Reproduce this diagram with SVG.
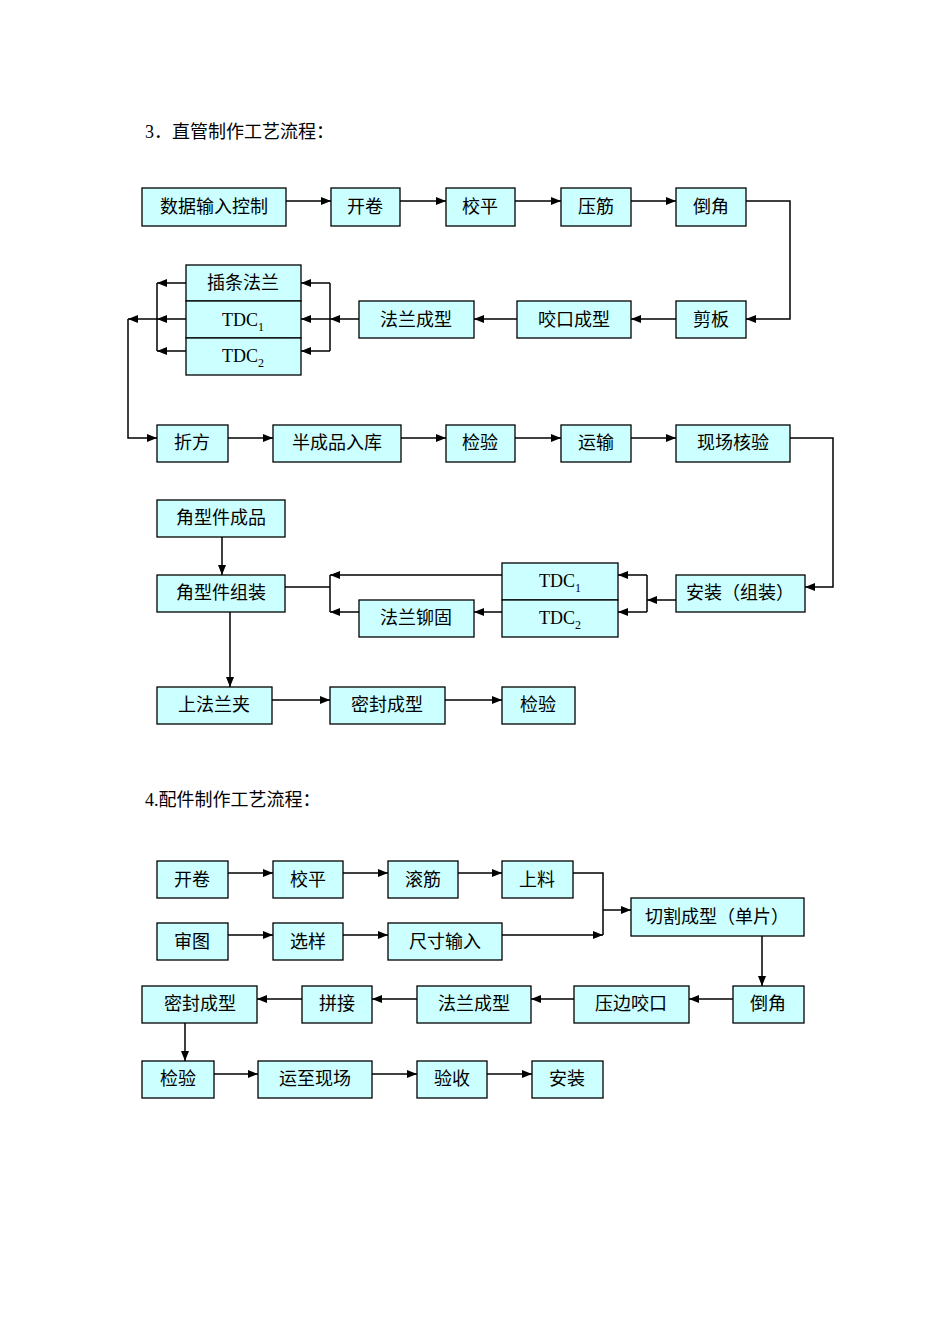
<svg xmlns="http://www.w3.org/2000/svg" width="950" height="1344" viewBox="0 0 950 1344">
<defs>
<marker id="a" markerWidth="10" markerHeight="8" refX="10" refY="4" orient="auto" markerUnits="userSpaceOnUse"><path d="M0,0 L10,4 L0,8 z" fill="#000"/></marker>
<style>
.b{fill:#ccffff;stroke:#000;stroke-width:1.3}
text{font-family:"Liberation Serif","Noto Sans CJK SC",serif;font-size:18px;text-anchor:middle;fill:#000}
.t{text-anchor:start}
.c line,.c polyline{stroke:#000;stroke-width:1.5;fill:none}
.m{marker-end:url(#a)}
</style>
</defs>
<rect width="950" height="1344" fill="#fff"/>
<text class="t" x="145" y="138">3．直管制作工艺流程：</text>
<text class="t" x="145" y="806">4.配件制作工艺流程：</text>
<g id="n1"><rect class="b" x="142" y="188" width="144" height="38"/><text x="214" y="213">数据输入控制</text></g>
<g id="n2"><rect class="b" x="331" y="188" width="69" height="38"/><text x="365" y="213">开卷</text></g>
<g id="n3"><rect class="b" x="446" y="188" width="69" height="38"/><text x="480" y="213">校平</text></g>
<g id="n4"><rect class="b" x="561" y="188" width="70" height="38"/><text x="596" y="213">压筋</text></g>
<g id="n5"><rect class="b" x="676" y="188" width="70" height="38"/><text x="711" y="213">倒角</text></g>
<g id="n6"><rect class="b" x="676" y="301" width="70" height="37"/><text x="711" y="326">剪板</text></g>
<g id="n7"><rect class="b" x="517" y="301" width="114" height="37"/><text x="574" y="326">咬口成型</text></g>
<g id="n8"><rect class="b" x="359" y="301" width="115" height="37"/><text x="416" y="326">法兰成型</text></g>
<g id="n9"><rect class="b" x="186" y="265" width="115" height="36"/><text x="243" y="289">插条法兰</text></g>
<g id="n10"><rect class="b" x="186" y="301" width="115" height="37"/><text x="243" y="326">TDC<tspan font-size="12" dy="5">1</tspan></text></g>
<g id="n11"><rect class="b" x="186" y="338" width="115" height="37"/><text x="243" y="362">TDC<tspan font-size="12" dy="5">2</tspan></text></g>
<g id="n12"><rect class="b" x="157" y="425" width="71" height="37"/><text x="192" y="449">折方</text></g>
<g id="n13"><rect class="b" x="273" y="425" width="128" height="37"/><text x="337" y="449">半成品入库</text></g>
<g id="n14"><rect class="b" x="446" y="425" width="69" height="37"/><text x="480" y="449">检验</text></g>
<g id="n15"><rect class="b" x="561" y="425" width="70" height="37"/><text x="596" y="449">运输</text></g>
<g id="n16"><rect class="b" x="676" y="425" width="114" height="37"/><text x="733" y="449">现场核验</text></g>
<g id="n17"><rect class="b" x="157" y="500" width="128" height="37"/><text x="221" y="524">角型件成品</text></g>
<g id="n18"><rect class="b" x="157" y="575" width="128" height="37"/><text x="221" y="599">角型件组装</text></g>
<g id="n19"><rect class="b" x="676" y="575" width="129" height="37"/><text x="740" y="599">安装（组装）</text></g>
<g id="n20"><rect class="b" x="502" y="563" width="116" height="37"/><text x="560" y="587">TDC<tspan font-size="12" dy="5">1</tspan></text></g>
<g id="n21"><rect class="b" x="502" y="600" width="116" height="37"/><text x="560" y="624">TDC<tspan font-size="12" dy="5">2</tspan></text></g>
<g id="n22"><rect class="b" x="359" y="600" width="115" height="37"/><text x="416" y="624">法兰铆固</text></g>
<g id="n23"><rect class="b" x="157" y="687" width="115" height="37"/><text x="214" y="711">上法兰夹</text></g>
<g id="n24"><rect class="b" x="330" y="687" width="115" height="37"/><text x="387" y="711">密封成型</text></g>
<g id="n25"><rect class="b" x="502" y="687" width="73" height="37"/><text x="538" y="711">检验</text></g>
<g id="p1"><rect class="b" x="157" y="861" width="71" height="37"/><text x="192" y="886">开卷</text></g>
<g id="p2"><rect class="b" x="273" y="861" width="70" height="37"/><text x="308" y="886">校平</text></g>
<g id="p3"><rect class="b" x="388" y="861" width="70" height="37"/><text x="423" y="886">滚筋</text></g>
<g id="p4"><rect class="b" x="502" y="861" width="71" height="37"/><text x="537" y="886">上料</text></g>
<g id="p5"><rect class="b" x="157" y="923" width="71" height="37"/><text x="192" y="948">审图</text></g>
<g id="p6"><rect class="b" x="273" y="923" width="70" height="37"/><text x="308" y="948">选样</text></g>
<g id="p7"><rect class="b" x="388" y="923" width="114" height="37"/><text x="445" y="948">尺寸输入</text></g>
<g id="p8"><rect class="b" x="631" y="898" width="173" height="38"/><text x="717" y="923">切割成型（单片）</text></g>
<g id="p9"><rect class="b" x="733" y="986" width="71" height="37"/><text x="768" y="1010">倒角</text></g>
<g id="p10"><rect class="b" x="574" y="986" width="115" height="37"/><text x="631" y="1010">压边咬口</text></g>
<g id="p11"><rect class="b" x="417" y="986" width="114" height="37"/><text x="474" y="1010">法兰成型</text></g>
<g id="p12"><rect class="b" x="302" y="986" width="70" height="37"/><text x="337" y="1010">拼接</text></g>
<g id="p13"><rect class="b" x="142" y="986" width="115" height="37"/><text x="200" y="1010">密封成型</text></g>
<g id="p14"><rect class="b" x="142" y="1061" width="72" height="37"/><text x="178" y="1085">检验</text></g>
<g id="p15"><rect class="b" x="258" y="1061" width="114" height="37"/><text x="315" y="1085">运至现场</text></g>
<g id="p16"><rect class="b" x="417" y="1061" width="70" height="37"/><text x="452" y="1085">验收</text></g>
<g id="p17"><rect class="b" x="532" y="1061" width="71" height="37"/><text x="567" y="1085">安装</text></g>
<g class="c" id="connectors">
<line class="m" x1="286" y1="201" x2="331" y2="201"/>
<line class="m" x1="400" y1="201" x2="446" y2="201"/>
<line class="m" x1="515" y1="201" x2="561" y2="201"/>
<line class="m" x1="631" y1="201" x2="676" y2="201"/>
<polyline class="m" points="746,201 790,201 790,319 746,319"/>
<line class="m" x1="676" y1="319" x2="631" y2="319"/>
<line class="m" x1="517" y1="319" x2="474" y2="319"/>
<line class="m" x1="359" y1="319" x2="330" y2="319"/>
<line x1="330" y1="283" x2="330" y2="351"/>
<line class="m" x1="330" y1="283" x2="301" y2="283"/>
<line class="m" x1="330" y1="319" x2="301" y2="319"/>
<line class="m" x1="330" y1="351" x2="301" y2="351"/>
<line class="m" x1="186" y1="283" x2="157" y2="283"/>
<line class="m" x1="186" y1="319" x2="157" y2="319"/>
<line class="m" x1="186" y1="351" x2="157" y2="351"/>
<line x1="157" y1="283" x2="157" y2="351"/>
<line class="m" x1="157" y1="319" x2="128" y2="319"/>
<polyline class="m" points="128,319 128,438 157,438"/>
<line class="m" x1="228" y1="438" x2="273" y2="438"/>
<line class="m" x1="401" y1="438" x2="446" y2="438"/>
<line class="m" x1="515" y1="438" x2="561" y2="438"/>
<line class="m" x1="631" y1="438" x2="676" y2="438"/>
<polyline class="m" points="790,438 833,438 833,587 805,587"/>
<line class="m" x1="676" y1="600" x2="647" y2="600"/>
<line x1="647" y1="575" x2="647" y2="612"/>
<line class="m" x1="647" y1="575" x2="618" y2="575"/>
<line class="m" x1="647" y1="612" x2="618" y2="612"/>
<line class="m" x1="502" y1="575" x2="330" y2="575"/>
<line class="m" x1="502" y1="612" x2="474" y2="612"/>
<line class="m" x1="359" y1="612" x2="330" y2="612"/>
<line x1="330" y1="575" x2="330" y2="612"/>
<line x1="330" y1="587" x2="285" y2="587"/>
<line class="m" x1="222" y1="537" x2="222" y2="575"/>
<line class="m" x1="230" y1="612" x2="230" y2="687"/>
<line class="m" x1="272" y1="700" x2="330" y2="700"/>
<line class="m" x1="445" y1="700" x2="502" y2="700"/>
<line class="m" x1="228" y1="873" x2="273" y2="873"/>
<line class="m" x1="343" y1="873" x2="388" y2="873"/>
<line class="m" x1="458" y1="873" x2="502" y2="873"/>
<line class="m" x1="228" y1="935" x2="273" y2="935"/>
<line class="m" x1="343" y1="935" x2="388" y2="935"/>
<polyline points="573,873 603,873 603,935"/>
<line class="m" x1="502" y1="935" x2="603" y2="935"/>
<line class="m" x1="603" y1="910" x2="631" y2="910"/>
<line class="m" x1="762" y1="936" x2="762" y2="986"/>
<line class="m" x1="733" y1="999" x2="689" y2="999"/>
<line class="m" x1="574" y1="999" x2="531" y2="999"/>
<line class="m" x1="417" y1="999" x2="372" y2="999"/>
<line class="m" x1="302" y1="999" x2="257" y2="999"/>
<line class="m" x1="185" y1="1023" x2="185" y2="1061"/>
<line class="m" x1="214" y1="1074" x2="258" y2="1074"/>
<line class="m" x1="372" y1="1074" x2="417" y2="1074"/>
<line class="m" x1="487" y1="1074" x2="532" y2="1074"/>
</g>
</svg>
